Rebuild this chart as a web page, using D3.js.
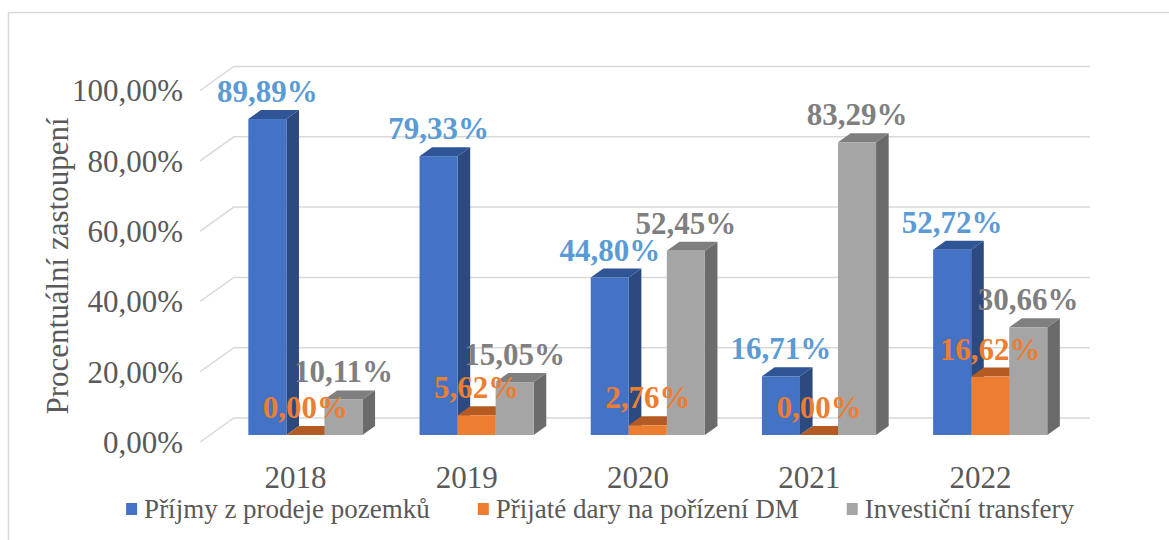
<!DOCTYPE html>
<html>
<head>
<meta charset="utf-8">
<script src="https://cdn.jsdelivr.net/npm/d3@7"></script>
<style>
  html, body { margin: 0; padding: 0; background: #fff; }
  svg { display: block; }
</style>
</head>
<body>
<svg id="root"></svg>
<script>
const years = ["2018", "2019", "2020", "2021", "2022"];
const seriesNames = [
  "Příjmy z prodeje pozemků",
  "Přijaté dary na pořízení DM",
  "Investiční transfery",
];
const prijmy = [89.89, 79.33, 44.8, 16.71, 52.72];
const dary = [0.0, 5.62, 2.76, 0.0, 16.62];
const transfery = [10.11, 15.05, 52.45, 83.29, 30.66];
const yTicks = [0, 20, 40, 60, 80, 100];

const width = 1169,
  height = 540;

const font = "'Liberation Serif', 'Times New Roman', serif";

const colors = [
  { front: "#4472c4", side: "#2c4a80", top: "#2f5597", label: "#5b9bd5" },
  { front: "#ed7d31", side: "#a95a22", top: "#b35b22", label: "#ed7d31" },
  { front: "#a5a5a5", side: "#6b6b6b", top: "#7f7f7f", label: "#7f7f7f" },
];

const values = [prijmy, dary, transfery];

// oblique depth: one unit of depth moves the point right and up
const kx = 1.4,
  ky = 1;
const barDepth = 9; // bar depth units
const floorFront = -7; // floor front edge relative to bar front plane
const backWall = 17;

const locale = d3.formatLocale({
  decimal: ",",
  thousands: " ",
  grouping: [3],
  currency: ["", " Kč"],
});
const fmt = (v) => locale.format(".2f")(v) + "%";

const svg = d3
  .select("svg#root")
  .attr("width", width)
  .attr("height", height)
  .attr("viewBox", [0, 0, width, height]);

// chart border
svg
  .append("rect")
  .attr("x", 8.5)
  .attr("y", 12.5)
  .attr("width", width)
  .attr("height", height)
  .attr("fill", "#fff")
  .attr("stroke", "#d9d9d9")
  .attr("stroke-width", 1.5);

// y on the bars' front plane
const y = d3.scaleLinear().domain([0, 100]).range([435, 83.5]);
// x on the floor front edge
const x = d3.scaleBand().domain(years).range([210, 1066]).padding(0);

const proj = (px, v, d) => [px + d * kx, y(v) - d * ky];

// gridlines: side wall diagonal + back wall horizontal
const grid = svg.append("g").attr("class", "grid");
yTicks.forEach((t) => {
  const a = proj(x.range()[0], t, floorFront);
  const b = proj(x.range()[0], t, backWall);
  const c = proj(x.range()[1], t, backWall);
  grid
    .append("polyline")
    .attr("points", [a, b, c].map((p) => p.join(",")).join(" "))
    .attr("fill", "none")
    .attr("stroke", "#d9d9d9")
    .attr("stroke-width", 1.5);
});

// y tick labels
svg
  .append("g")
  .selectAll("text")
  .data(yTicks)
  .join("text")
  .attr("x", x.range()[0] - 27)
  .attr("y", (d) => proj(0, d, floorFront)[1])
  .attr("dy", "0.35em")
  .attr("text-anchor", "end")
  .attr("font-family", font)
  .attr("font-size", "31px")
  .attr("fill", "#595959")
  .text((d) => fmt(d));

// y title
svg
  .append("text")
  .attr("transform", "translate(68, 266) rotate(-90)")
  .attr("text-anchor", "middle")
  .attr("font-family", font)
  .attr("font-size", "31px")
  .attr("fill", "#595959")
  .text("Procentuální zastoupení");

// x labels
svg
  .append("g")
  .selectAll("text")
  .data(years)
  .join("text")
  .attr("x", (d) => x(d) + x.bandwidth() / 2)
  .attr("y", proj(0, 0, floorFront)[1] + 46)
  .attr("text-anchor", "middle")
  .attr("font-family", font)
  .attr("font-size", "31px")
  .attr("fill", "#595959")
  .text((d) => d);

// bars
const groupWidth = (x.bandwidth() * 2) / 3;
const inner = d3.scaleBand().domain(d3.range(3)).range([0, groupWidth]);
const dx = barDepth * kx,
  dy = barDepth * ky;

const bars = [];
years.forEach((yr, i) => {
  const gx = x(yr) + floorFront * -kx + (x.bandwidth() - groupWidth) / 2;
  values.forEach((vals, s) => {
    bars.push({ year: yr, s, v: vals[i], x0: gx + inner(s), x1: gx + inner(s) + inner.bandwidth() });
  });
});

const barG = svg.append("g").attr("class", "bars");
bars.forEach((b) => {
  const g = barG.append("g");
  const yt = y(b.v),
    yb = y(0);
  const c = colors[b.s];
  const pts = (arr) => arr.map((p) => p.join(",")).join(" ");
  g.append("polygon")
    .attr("points", pts([[b.x1, yt], [b.x1 + dx, yt - dy], [b.x1 + dx, yb - dy], [b.x1, yb]]))
    .attr("fill", c.side);
  g.append("polygon")
    .attr("points", pts([[b.x0, yt], [b.x1, yt], [b.x1 + dx, yt - dy], [b.x0 + dx, yt - dy]]))
    .attr("fill", c.top);
  g.append("rect")
    .attr("x", b.x0)
    .attr("y", yt)
    .attr("width", b.x1 - b.x0)
    .attr("height", yb - yt)
    .attr("fill", c.front);
});

// data labels
svg
  .append("g")
  .selectAll("text")
  .data(bars)
  .join("text")
  .attr("x", (d) => (d.x0 + d.x1) / 2)
  .attr("y", (d) => y(d.v) - dy - 8)
  .attr("text-anchor", "middle")
  .attr("font-family", font)
  .attr("font-size", "31px")
  .attr("font-weight", "bold")
  .attr("fill", (d) => colors[d.s].label)
  .text((d) => fmt(d.v));

// legend
const legend = svg.append("g").attr("class", "legend");
const items = seriesNames.map((name, s) => {
  const g = legend.append("g");
  g.append("rect")
    .attr("x", 0)
    .attr("y", -15)
    .attr("width", 11)
    .attr("height", 12)
    .attr("fill", colors[s].front);
  const t = g
    .append("text")
    .attr("x", 18)
    .attr("y", 0)
    .attr("font-family", font)
    .attr("font-size", "27px")
    .attr("fill", "#595959")
    .text(name);
  return { g, w: 18 + t.node().getComputedTextLength() };
});
const itemGap = 48;
const total = d3.sum(items, (d) => d.w) + itemGap * (items.length - 1);
let lx = 600 - total / 2;
items.forEach((it) => {
  it.g.attr("transform", `translate(${lx}, 518)`);
  lx += it.w + itemGap;
});
</script>
</body>
</html>
